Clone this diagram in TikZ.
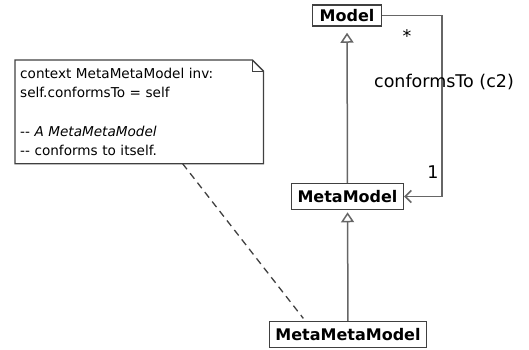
\documentclass[tikz,border=0pt]{standalone}
\usepackage{fontspec}
\setmainfont{DejaVu Sans}
\usetikzlibrary{positioning}
\usetikzlibrary{calc}
\usetikzlibrary{arrows.meta}

\begin{document}
\begin{tikzpicture}[x=1pt, y=-1pt,
	classbox/.style={draw=black!75, line width=1.5pt, inner xsep=6pt, minimum height=26pt, font=\fontsize{16}{18}\selectfont\bfseries},
	inherit/.style={draw=black!60, line width=1.5pt, -{Triangle[open, length=10pt, width=13pt]}},
	assoc/.style={draw=black!60, line width=1.5pt, -{Straight Barb[length=6pt, width=12pt]}},
	lbl/.style={font=\fontsize{17.5}{20}\selectfont}]
\useasboundingbox (0,0) rectangle (529,349);

\node[classbox, minimum height=21pt, inner xsep=7pt] (model) at (347,15.5) {Model};
\node[classbox] (metamodel) at (347.5,196.5) {MetaModel};
\node[classbox] (mmm) at (348,334.5) {MetaMetaModel};

\node[anchor=north west, text width=238pt, inner xsep=5pt, inner ysep=8pt, align=left,
	font=\fontsize{13.6}{19.2}\selectfont] (note) at (15,60) {%
	context MetaMetaModel inv:\\
	self.conformsTo = self\\
	\mbox{}\\
	-{}- \textit{A MetaMetaModel}\\
	-{}- conforms to itself.};
% folded corner
\draw[black!75, line width=1.3pt] (note.south west) -- (note.north west) -- ($(note.north east)+(-11,0)$)
	-- ($(note.north east)+(0,11)$) -- (note.south east) -- cycle;
\draw[black!75, line width=1pt] ($(note.north east)+(-11,0)$) -- ++(0,11) -- ++(11,0);

\draw[inherit, shorten >=6pt] (metamodel) -- (model);
\draw[inherit, shorten >=2pt] (mmm) -- (metamodel);

\coordinate (c2) at ($(metamodel.east)+(38,0)$);
\draw[assoc] (model.east) -| (c2) -- (metamodel.east);
\node[lbl] (many) at (407,36) {*};
\node[lbl] (ctlabel) at (444,82) {conformsTo (c2)};
\node[lbl] (one) at (433,172) {1};

\draw[black!75, line width=1.3pt, dashed, dash pattern=on 7pt off 5pt, shorten >=3pt]
	($(note.south west)!0.675!(note.south east)$) -- ($(mmm.north west)!0.23!(mmm.north east)$);
\end{tikzpicture}
\end{document}
